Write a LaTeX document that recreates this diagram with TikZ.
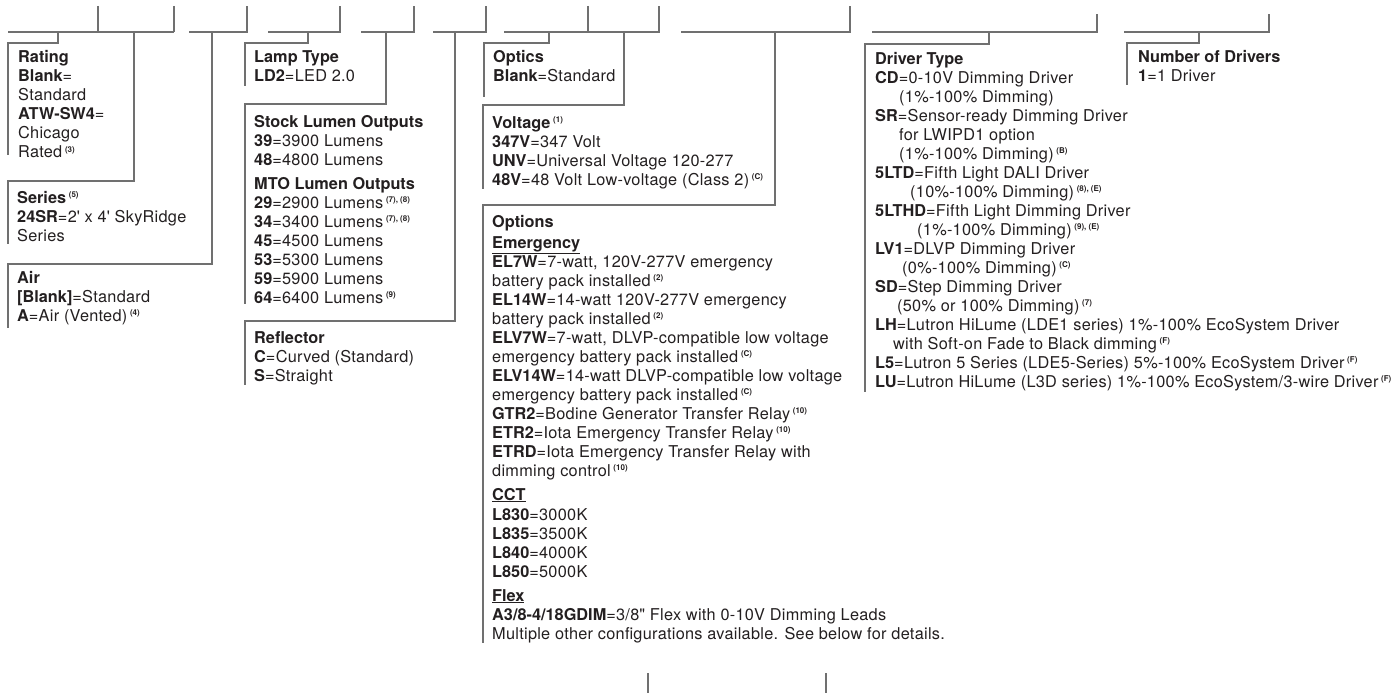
\documentclass[tikz,border=0pt]{standalone}
\usepackage{fontspec}
\setmainfont{TeX Gyre Heros}[UprightFeatures={LetterSpace=1.7}]
\definecolor{txt}{HTML}{231F20}
\definecolor{ln}{HTML}{707070}
\newcommand\fnote[1]{\,\raisebox{5.6pt}{\fontsize{8}{8}\selectfont\bfseries #1}}
\newcommand\blk[1]{\begin{tabular}[t]{@{}l@{}}#1\end{tabular}}
\newcommand\ap{\textquotesingle{}}
\begin{document}
\begin{tikzpicture}[x=1pt,y=-1pt,
  lbl/.style={anchor=base west, inner sep=0pt, text=txt, font=\fontsize{16.3}{19}\selectfont},
  rule/.style={draw=ln, line width=1.1pt},
]
\useasboundingbox (0,0) rectangle (1394,693);

% ---- top code slots ----
\draw[rule] (8,32) -- (174,32) (98,6) -- (98,32) (174,6) -- (174,32);
\draw[rule] (189,32) -- (247,32) -- (247,6);
\draw[rule] (268,32) -- (340,32) -- (340,6);
\draw[rule] (361,32) -- (414,32) -- (414,6);
\draw[rule] (433,32) -- (486,32) -- (486,6);
\draw[rule] (504,32) -- (659,32) -- (659,6) (588,6) -- (588,32);
\draw[rule] (681,32) -- (850,32) -- (850,6);
\draw[rule] (872,32) -- (1097,32) -- (1097,14);
\draw[rule] (1124,32) -- (1269,32) -- (1269,14);

% ---- slot coordinates ----
\coordinate (sRating) at (58,32);
\coordinate (sSeries) at (134,32);
\coordinate (sAir) at (212,32);
\coordinate (sLamp) at (308,32);
\coordinate (sStock) at (386,32);
\coordinate (sRefl) at (455,32);
\coordinate (sOptics) at (549,32);
\coordinate (sVolt) at (624,32);
\coordinate (sOpt) at (775,32);
\coordinate (sDrv) at (989,32);
\coordinate (sNum) at (1199,32);

\coordinate (eRating) at (8,155);
\coordinate (eSeries) at (8,244);
\coordinate (eAir) at (8,328);
\coordinate (eLamp) at (245,86);
\coordinate (eStock) at (245,304);
\coordinate (eRefl) at (245,385);
\coordinate (eOptics) at (484,97);
\coordinate (eVolt) at (483,189);
\coordinate (eOpt) at (483,643);
\coordinate (eDrv) at (865,392);
\coordinate (eNum) at (1127,85);

% ---- connectors ----
\draw[rule] (sRating) -- (58,43) -| (eRating);
\draw[rule] (sSeries) -- (134,181) -| (eSeries);
\draw[rule] (sAir) -- (212,264) -| (eAir);
\draw[rule] (sLamp) -- (308,43) -| (eLamp);
\draw[rule] (sStock) -- (386,104) -| (eStock);
\draw[rule] (sRefl) -- (455,321) -| (eRefl);
\draw[rule] (sOptics) -- (549,43) -| (eOptics);
\draw[rule] (sVolt) -- (624,105) -| (eVolt);
\draw[rule] (sOpt) -- (775,205) -| (eOpt);
\draw[rule] (sDrv) -- (989,44) -| (eDrv);
\draw[rule] (sNum) -- (1199,43) -| (eNum);

% ---- bottom ticks ----
\coordinate (b1t) at (648,673); \coordinate (b1b) at (648,693);
\coordinate (b2t) at (826,673); \coordinate (b2b) at (826,693);
\draw[rule] (b1t) -- (b1b) (b2t) -- (b2b);

% ---- texts ----
\node[lbl] (rating) at (18,63) {\blk{\textbf{Rating}\\ \textbf{Blank}=\\ Standard\\ \textbf{ATW-SW4}=\\ Chicago\\ Rated\fnote{(3)}}};

\node[lbl] (series) at (17,203) {\blk{\textbf{Series}\fnote{(5)}\\ \textbf{24SR}=2\ap\ x 4\ap\ SkyRidge\\ Series}};

\node[lbl] (air) at (17,283) {\blk{\textbf{Air}\\ \textbf{[Blank]}=Standard\\ \textbf{A}=Air (Vented)\fnote{(4)}}};

\node[lbl] (lamp) at (254,63) {\blk{\textbf{Lamp Type}\\ \textbf{LD2}=LED 2.0}};

\node[lbl] (stock) at (254,127) {\blk{\textbf{Stock Lumen Outputs}\\
 \textbf{39}=3900 Lumens\\
 \textbf{48}=4800 Lumens\\[5pt]
 \textbf{MTO Lumen Outputs}\\
 \textbf{29}=2900 Lumens\fnote{(7), (8)}\\
 \textbf{34}=3400 Lumens\fnote{(7), (8)}\\
 \textbf{45}=4500 Lumens\\
 \textbf{53}=5300 Lumens\\
 \textbf{59}=5900 Lumens\\
 \textbf{64}=6400 Lumens\fnote{(9)}}};

\node[lbl] (refl) at (254,343) {\blk{\textbf{Reflector}\\ \textbf{C}=Curved (Standard)\\ \textbf{S}=Straight}};

\node[lbl] (optics) at (493,63) {\blk{\textbf{Optics}\\ \textbf{Blank}=Standard}};

\node[lbl] (volt) at (492,128) {\blk{\textbf{Voltage}\fnote{(1)}\\
 \textbf{347V}=347 Volt\\
 \textbf{UNV}=Universal Voltage 120-277\\
 \textbf{48V}=48 Volt Low-voltage (Class 2)\fnote{(C)}}};

\node[lbl] (opts) at (492,227) {\blk{\textbf{Options}\\[2pt]
 \underline{\textbf{Emergency}}\\
 \textbf{EL7W}=7-watt, 120V-277V emergency\\
 battery pack installed\fnote{(2)}\\
 \textbf{EL14W}=14-watt 120V-277V emergency\\
 battery pack installed\fnote{(2)}\\
 \textbf{ELV7W}=7-watt, DLVP-compatible low voltage\\
 emergency battery pack installed\fnote{(C)}\\
 \textbf{ELV14W}=14-watt DLVP-compatible low voltage\\
 emergency battery pack installed\fnote{(C)}\\
 \textbf{GTR2}=Bodine Generator Transfer Relay\fnote{(10)}\\
 \textbf{ETR2}=Iota Emergency Transfer Relay\fnote{(10)}\\
 \textbf{ETRD}=Iota Emergency Transfer Relay with\\
 dimming control\fnote{(10)}\\[5pt]
 \underline{\textbf{CCT}}\\[1pt]
 \textbf{L830}=3000K\\
 \textbf{L835}=3500K\\
 \textbf{L840}=4000K\\
 \textbf{L850}=5000K\\[5pt]
 \underline{\textbf{Flex}}\\
 \textbf{A3/8-4/18GDIM}=3/8\textquotedbl{} Flex with 0-10V Dimming Leads\\
 {\addfontfeature{LetterSpace=3.2}Multiple other configurations available. See below for details.}}};

\node[lbl] (drv) at (875,64) {\blk{\textbf{Driver Type}\\
 \textbf{CD}=0-10V Dimming Driver\\
 \hspace*{24pt}(1\%-100\% Dimming)\\
 \textbf{SR}=Sensor-ready Dimming Driver\\
 \hspace*{24pt}for LWIPD1 option\\
 \hspace*{24pt}(1\%-100\% Dimming)\fnote{(B)}\\
 \textbf{5LTD}=Fifth Light DALI Driver\\
 \hspace*{35pt}(10\%-100\% Dimming)\fnote{(8), (E)}\\
 \textbf{5LTHD}=Fifth Light Dimming Driver\\
 \hspace*{42pt}(1\%-100\% Dimming)\fnote{(9), (E)}\\
 \textbf{LV1}=DLVP Dimming Driver\\
 \hspace*{27pt}(0\%-100\% Dimming)\fnote{(C)}\\
 \textbf{SD}=Step Dimming Driver\\
 \hspace*{22pt}(50\% or 100\% Dimming)\fnote{(7)}\\
 \textbf{LH}=Lutron HiLume (LDE1 series) 1\%-100\% EcoSystem Driver\\
 \hspace*{18pt}with Soft-on Fade to Black dimming\fnote{(F)}\\
 \textbf{L5}=Lutron 5 Series (LDE5-Series) 5\%-100\% EcoSystem Driver\fnote{(F)}\\
 \textbf{LU}=Lutron HiLume (L3D series) 1\%-100\% EcoSystem/3-wire Driver\fnote{(F)}}};

\node[lbl] (num) at (1138,63) {\blk{\textbf{Number of Drivers}\\ \textbf{1}=1 Driver}};

\end{tikzpicture}
\end{document}
